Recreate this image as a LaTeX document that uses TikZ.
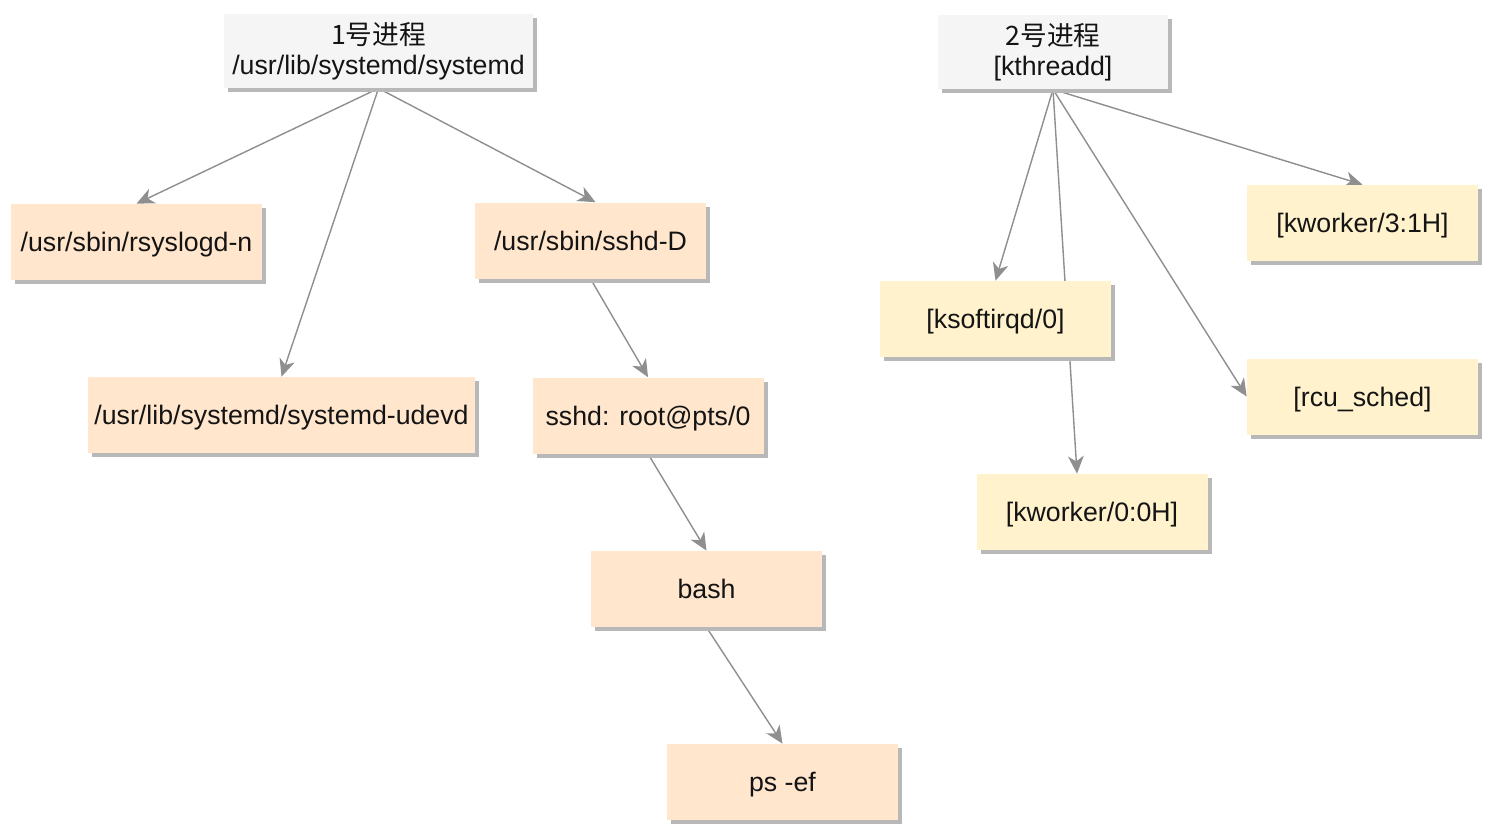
\documentclass[tikz,border=0pt]{standalone}
\usepackage{fontspec}
\setmainfont{Liberation Sans}
\newfontfamily\cjk{Noto Sans CJK SC}
\usepackage{tikz}
\usetikzlibrary{arrows.meta,calc,shadows,backgrounds}
\usetikzlibrary{positioning}

\definecolor{rootfill}{HTML}{F5F5F5}
\definecolor{userfill}{HTML}{FFE6CC}
\definecolor{kernfill}{HTML}{FFF2CC}
\definecolor{edgegray}{HTML}{8F8F8F}

\begin{document}
\begin{tikzpicture}[line join=round,
  font=\fontsize{15.2}{17}\selectfont,
  proc/.style={minimum width=4.62cm,minimum height=1.52cm,inner sep=0pt,align=center,text=black!92,
    drop shadow={shadow xshift=0.08cm,shadow yshift=-0.08cm,fill=black!28,opacity=1}},
  rootproc/.style={proc,fill=rootfill,minimum height=1.48cm},
  userproc/.style={proc,fill=userfill,text depth=0pt},
  kernproc/.style={proc,fill=kernfill,text depth=0pt},
  link/.style={-{Stealth[length=10pt,width=9pt,inset=3pt]},draw=edgegray,fill=edgegray,line width=0.8pt}]
\useasboundingbox (0,0) rectangle (29.76,-16.68);
% roots
\node[rootproc,minimum width=6.18cm] (init) at (7.57,-1.02) {{\cjk 1号进程}\\/usr/lib/systemd/systemd};
\node[rootproc,minimum width=4.6cm] (kthreadd) at (21.06,-1.04) {{\cjk 2号进程}\\{}[kthreadd]};
% user space tree
\node[userproc,minimum width=5.02cm] (rsyslogd) at (2.73,-4.84) {/usr/sbin/rsyslogd-n};
\node[userproc] (sshd) at (11.81,-4.81) {/usr/sbin/sshd-D};
\node[userproc,minimum width=7.74cm] (udevd) at (5.63,-8.3) {/usr/lib/systemd/systemd-udevd};
\node[userproc] (sshdpts) at (12.96,-8.31) {sshd: root@pts/0};
\node[userproc] (bash) at (14.13,-11.78) {bash};
\node[userproc] (psef) at (15.65,-15.64) {ps -ef};
% kernel threads
\node[kernproc] (ksoftirqd) at (19.91,-6.38) {[ksoftirqd/0]};
\node[kernproc] (kworkerA) at (21.84,-10.24) {[kworker/0:0H]};
\node[kernproc] (kworkerB) at (27.25,-4.46) {[kworker/3:1H]};
\node[kernproc] (rcusched) at (27.25,-7.93) {[rcu\_sched]};
% edges (behind boxes)
\begin{scope}[on background layer]
\draw[link] (init.south) -- (rsyslogd.north);
\draw[link] (init.south) -- (udevd.north);
\draw[link] (init.south) -- ($(sshd.north)+(0.1,0)$);
\draw[link] (sshd.south) -- (sshdpts.north);
\draw[link] (sshdpts.south) -- (bash.north);
\draw[link] (bash.south) -- (psef.north);
\draw[link] (kthreadd.south) -- (ksoftirqd.north);
\draw[link] (kthreadd.south) -- ($(kworkerA.north)+(-0.3,0)$);
\draw[link] (kthreadd.south) -- (kworkerB.north);
\draw[link] (kthreadd.south) -- (rcusched.west);
\end{scope}
\end{tikzpicture}
\end{document}
